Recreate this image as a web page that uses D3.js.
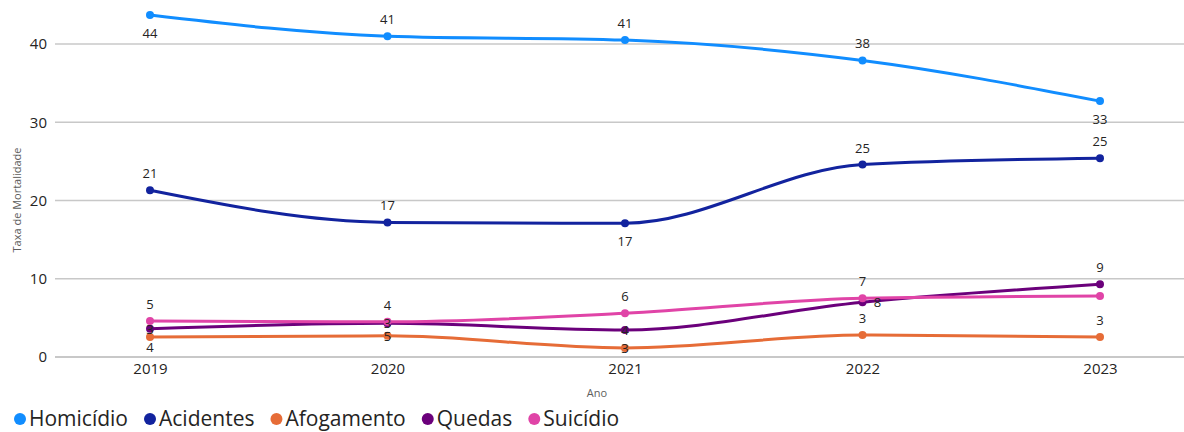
<!DOCTYPE html>
<html><head><meta charset="utf-8">
<script src="https://cdn.jsdelivr.net/npm/d3@7"></script>
<style>body{margin:0;background:#fff}svg{display:block}</style>
</head><body>
<script>
const years = ["2019","2020","2021","2022","2023"];
const seriesNames = ["Homicídio","Acidentes","Afogamento","Quedas","Suicídio"];
const homicidio = [43.7, 41.0, 40.5, 37.9, 32.7];
const acidentes = [21.3, 17.2, 17.1, 24.6, 25.4];
const afogamento = [2.55, 2.7, 1.15, 2.8, 2.55];
const quedas = [3.6, 4.3, 3.45, 7.0, 9.3];
const suicidio = [4.6, 4.5, 5.6, 7.5, 7.8];
const homicidioLabels = ["44","41","41","38","33"];
const acidentesLabels = ["21","17","17","25","25"];
const afogamentoLabels = ["4","5","3","3","3"];
const quedasLabels = ["3","3","4","8","9"];
const suicidioLabels = ["5","4","6","7",""];
const yTicks = [0,10,20,30,40];
const colors = ["#118DFF","#12239E","#E66C37","#6B007B","#E044A7"];
// label placement: a = above, b = below, s = just below, c = centered on point, r = right
const placements = [
  ["b","a","a","a","b"],
  ["a","a","b","a","a"],
  ["s","c","c","a","a"],
  ["c","c","c","r","a"],
  ["a","a","a","a","a"]
];
const placeDy = {a: -12, b: 23, s: 15, c: 5, r: 5};

const W = 1184, H = 432;
const svg = d3.select("body").append("svg").attr("width", W).attr("height", H);
const font = "'Segoe UI','Open Sans','Noto Sans',sans-serif";

const x = d3.scalePoint().domain(years).range([150, 1100]);
const y = d3.scaleLinear().domain([0, 40]).range([357, 44]);

// gridlines
svg.append("g").selectAll("line").data(yTicks).join("line")
  .attr("x1", 55).attr("x2", W)
  .attr("y1", d => y(d)).attr("y2", d => y(d))
  .attr("stroke", "#C8C8C8").attr("stroke-width", d => d === 0 ? 2 : 1.5);

// y axis tick labels
const yAxis = d3.axisLeft(y).tickValues(yTicks).tickSize(0).tickPadding(0);
const gy = svg.append("g").attr("transform", "translate(47,0)").call(yAxis);
gy.select(".domain").remove();
gy.selectAll("text").attr("font-family", font).attr("font-size", 15).attr("fill", "#252423");

// x axis
const xAxis = d3.axisBottom(x).tickSize(0).tickPadding(0);
const gx = svg.append("g").attr("transform", "translate(0,363)").call(xAxis);
gx.select(".domain").remove();
gx.selectAll("text").attr("font-family", font).attr("font-size", 15).attr("fill", "#252423");

// axis titles
svg.append("text").attr("x", 597).attr("y", 397).attr("text-anchor", "middle")
  .attr("font-family", font).attr("font-size", 11).attr("fill", "#605E5C").text("Ano");
svg.append("text").attr("transform", "translate(21,200) rotate(-90)").attr("text-anchor", "middle")
  .attr("font-family", font).attr("font-size", 11).attr("fill", "#605E5C").text("Taxa de Mortalidade");

const allValues = [homicidio, acidentes, afogamento, quedas, suicidio];
const allLabels = [homicidioLabels, acidentesLabels, afogamentoLabels, quedasLabels, suicidioLabels];

const line = d3.line().x((d,i) => x(years[i])).y(d => y(d)).curve(d3.curveMonotoneX);

allValues.forEach((vals, s) => {
  const g = svg.append("g");
  g.append("path").datum(vals).attr("d", line)
    .attr("fill", "none").attr("stroke", colors[s]).attr("stroke-width", 3)
    .attr("stroke-linejoin", "round").attr("stroke-linecap", "round");
  g.selectAll("circle").data(vals).join("circle")
    .attr("cx", (d,i) => x(years[i])).attr("cy", d => y(d)).attr("r", 4)
    .attr("fill", colors[s]);
});

// data labels
allValues.forEach((vals, s) => {
  svg.append("g").selectAll("text").data(vals).join("text")
    .attr("x", (d,i) => x(years[i]) + (placements[s][i] === "r" ? 15 : 0))
    .attr("y", (d,i) => y(d) + placeDy[placements[s][i]])
    .attr("text-anchor", "middle")
    .attr("font-family", font).attr("font-size", 13).attr("fill", "#252423")
    .text((d,i) => allLabels[s][i]);
});

// legend
const legend = svg.append("g").attr("transform", "translate(0,419)");
let lx = 14;
seriesNames.forEach((n, s) => {
  legend.append("circle").attr("cx", lx + 6).attr("cy", 0).attr("r", 6).attr("fill", colors[s]);
  const t = legend.append("text").attr("x", lx + 15).attr("y", 7)
    .attr("font-family", font).attr("font-size", 21).attr("fill", "#252423").text(n);
  lx += 15 + t.node().getComputedTextLength() + 16;
});
</script>
</body></html>
